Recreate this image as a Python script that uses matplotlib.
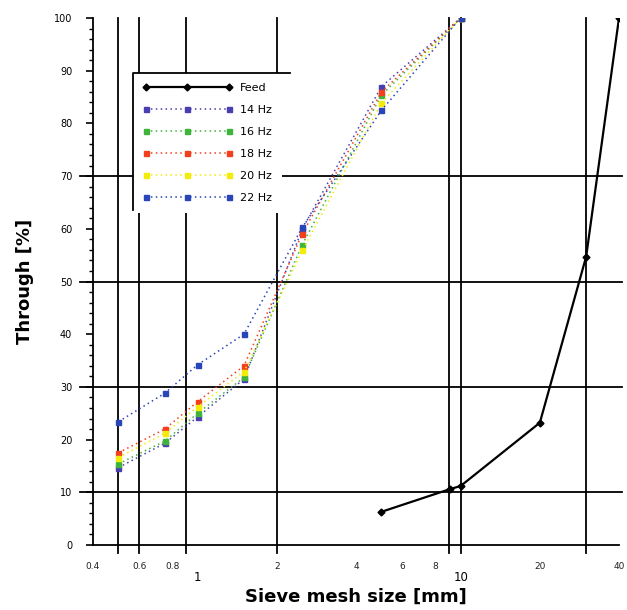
import numpy as np
from matplotlib import pyplot as plt
from matplotlib.lines import Line2D
from matplotlib.ticker import FixedLocator, MultipleLocator, NullFormatter

# sieve sizes [mm]
sizes = [0.5, 0.75, 1.0, 1.5, 2.5, 5, 10]

# cumulative passing [%] per frequency
hz14 = [14.7, 19.3, 24.3, 31.5, 60.0, 87.0, 100]
hz16 = [15.4, 19.7, 25.0, 31.8, 57.0, 85.4, 100]
hz18 = [17.5, 22.0, 27.2, 34.0, 59.1, 86.0, 100]
hz20 = [16.6, 21.2, 26.2, 32.9, 55.9, 83.9, 100]
hz22 = [23.4, 28.8, 34.2, 40.0, 60.3, 82.5, 100]

feed_sizes = [5, 9.1, 10, 20, 30, 40]
feed = [6.3, 10.6, 11.2, 23.2, 54.7, 100]

series = [
    ("14 Hz", hz14, "#4a3fb0"),
    ("16 Hz", hz16, "#3fb43c"),
    ("18 Hz", hz18, "#f2401e"),
    ("20 Hz", hz20, "#f2ec0a"),
    ("22 Hz", hz22, "#2a45b8"),
]

x_ticks = [0.4, 0.6, 0.8, 2, 4, 6, 8, 20, 40]
x_ticks_low = [1, 10]
v_lines = [0.5, 0.6, 0.9, 2, 9, 10, 30]
h_lines = [10, 30, 50, 70]

fig = plt.figure(figsize=(6.27, 6.10), dpi=100)
ax = fig.add_axes([93 / 627, 65 / 610, 526 / 627, 527 / 610])
ax.set_xscale("log")
ax.set_xlim(0.4, 40)
ax.set_ylim(0, 100)

for v in v_lines:
    ax.axvline(v, ymin=-0.016, ymax=1, color="black", lw=1.3, clip_on=False, zorder=1)
for h in h_lines:
    ax.axhline(h, xmin=-0.025, xmax=1.005, color="black", lw=1.3, clip_on=False, zorder=1)

ax.plot(feed_sizes, feed, color="black", lw=1.6, marker="D", ms=3.5, label="Feed", zorder=4)
for name, vals, col in series:
    ax.plot(sizes, vals, color=col, lw=1.1, ls=(0, (1, 2.2)), marker="s", ms=3.6,
            label=name, zorder=3)

for s in ["top", "right"]:
    ax.spines[s].set_visible(False)
ax.spines["left"].set_linewidth(1.3)
ax.spines["bottom"].set_linewidth(1.3)

ax.xaxis.set_major_locator(FixedLocator(x_ticks))
ax.xaxis.set_major_formatter(plt.FixedFormatter([str(t) for t in x_ticks]))
ax.xaxis.set_minor_locator(FixedLocator([]))
ax.xaxis.set_minor_formatter(NullFormatter())
ax.tick_params(axis="x", length=0, labelsize=6.5, pad=12, colors="#222222")
for t in x_ticks_low:
    ax.text(t, -0.05, str(t), transform=ax.get_xaxis_transform(), ha="center",
            va="top", fontsize=8.5)

ax.yaxis.set_major_locator(MultipleLocator(10))
ax.yaxis.set_minor_locator(MultipleLocator(2))
ax.tick_params(axis="y", which="major", length=5, width=1.2, labelsize=7, pad=10)
ax.tick_params(axis="y", which="minor", length=3, width=1.0)

ax.set_xlabel("Sieve mesh size [mm]", fontsize=13, fontweight="bold", labelpad=12)
ax.set_ylabel("Through [%]", fontsize=13, fontweight="bold", labelpad=14)

leg = ax.legend(loc="upper left", bbox_to_anchor=(0.076, 0.8956), borderaxespad=0,
                numpoints=3, handlelength=8.0, fontsize=8, labelspacing=1.08,
                frameon=True, fancybox=False, edgecolor="none", facecolor="white",
                framealpha=1, borderpad=0.9, handletextpad=0.7)
leg.set_zorder(5)
# only top and left edge of the legend box are drawn
ax.add_line(Line2D([0.076, 0.076, 0.3745], [0.6357, 0.8956, 0.8956],
                   transform=ax.transAxes, color="black", lw=1.3, zorder=6))

fig.savefig("out.png", dpi=100)
